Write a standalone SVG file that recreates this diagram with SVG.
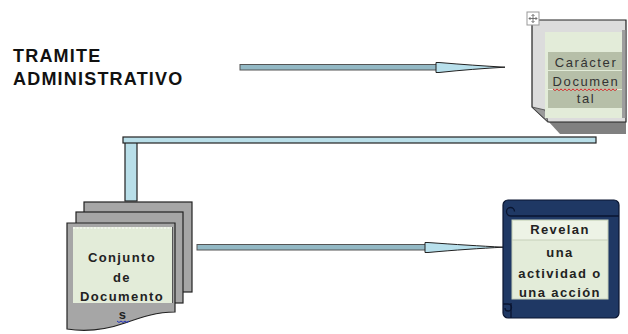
<svg xmlns="http://www.w3.org/2000/svg" width="628" height="334" viewBox="0 0 628 334">
<style>
.title{font-family:"Liberation Sans",Arial,sans-serif;font-weight:bold;font-size:18px;letter-spacing:1.2px;fill:#111}
.lab{font-family:"Liberation Sans",Arial,sans-serif;font-weight:bold;font-size:13px;letter-spacing:1.4px;fill:#222;text-anchor:middle}
.reg{font-family:"Liberation Sans",Arial,sans-serif;font-size:13px;letter-spacing:1.6px;fill:#333;text-anchor:middle}
.shaft{fill:#93b9c5;stroke:#555;stroke-width:1}
.head{fill:#b8e0ec;stroke:#222;stroke-width:1}
.bar{fill:#b9dfe9;stroke:#222;stroke-width:1.2}
.page{fill:#a6a6a6;stroke:#222;stroke-width:1.2}
.inner{fill:#e3ecd9}
.navy{fill:#1f3864;stroke:#0a1530;stroke-width:1.2}
.curl{fill:none;stroke:#0a1530;stroke-width:1.3}
.row{fill:#b6bfa8}
</style>
<rect width="628" height="334" fill="#ffffff"/>

<g id="title">
<text class="title" x="13" y="62">TRAMITE</text>
<text class="title" x="13" y="85">ADMINISTRATIVO</text>
</g>

<g id="connectors">
<rect class="shaft" x="240" y="64.5" width="198" height="5.5"/>
<path class="head" d="M436,62.5 L439,62.5 C462,64.5 484,66 505,67.2 C484,68.4 462,70 439,72.5 L436,72.5 Z"/>
<rect class="shaft" x="197" y="244.5" width="230" height="5.5"/>
<path class="head" d="M425,242.5 L428,242.5 C455,244.5 480,246 503,247.2 C480,248.4 455,250 428,252.5 L425,252.5 Z"/>
<rect class="bar" x="125" y="142" width="12" height="59"/>
<rect class="bar" x="123" y="137" width="473" height="6"/>
</g>

<g id="caracter-documental">
<path d="M548,121 H626 V134 H560 Z" fill="#808080"/>
<path d="M532,20 H626 V122 H548 L532,107 Z" fill="#dcdcdc" stroke="#222" stroke-width="1.2"/>
<path d="M532,107 L548,122 L545,110 Z" fill="#9a9a9a" stroke="#444" stroke-width="0.8"/>
<rect class="inner" x="545" y="32" width="78" height="86"/>
<rect x="622" y="30" width="3.5" height="88" fill="#9e9e9e"/>
<rect class="row" x="548" y="52" width="74" height="18"/>
<rect class="row" x="548" y="71" width="74" height="18"/>
<rect class="row" x="548" y="90" width="74" height="18"/>
<text class="reg" x="586" y="67">Carácter</text>
<text class="reg" x="586" y="86">Documen</text>
<path d="M553,89 l2,1.5 l2,-1.5 l2,1.5 l2,-1.5 l2,1.5 l2,-1.5 l2,1.5 l2,-1.5 l2,1.5 l2,-1.5 l2,1.5 l2,-1.5 l2,1.5 l2,-1.5 l2,1.5 l2,-1.5 l2,1.5 l2,-1.5 l2,1.5 l2,-1.5 l2,1.5 l2,-1.5 l2,1.5 l2,-1.5 l2,1.5 l2,-1.5 l2,1.5 l2,-1.5 l2,1.5 l2,-1.5 l2,1.5 l2,-1.5" fill="none" stroke="#d02020" stroke-width="1"/>
<text class="reg" x="586" y="103">tal</text>
<rect x="527" y="12" width="12" height="13" fill="#ffffff" stroke="#999" stroke-width="1"/>
<path d="M533,14.5 V22.5 M529,18.5 H537 M531.5,16 L533,14.5 L534.5,16 M531.5,21 L533,22.5 L534.5,21 M530.5,17 L529,18.5 L530.5,20 M535.5,17 L537,18.5 L535.5,20" fill="none" stroke="#666" stroke-width="0.9"/>
</g>

<g id="conjunto-documentos">
<rect class="page" x="84" y="202" width="108" height="90"/>
<rect class="page" x="76" y="212" width="107" height="91"/>
<path class="page" d="M67,223 H175 V312 C157,312 142,317 125,323 C105,330 86,332 67,329 Z"/>
<rect class="inner" x="73" y="227" width="99" height="76"/>
<line x1="73" y1="228" x2="172" y2="228" stroke="#ffffff" stroke-width="1" stroke-dasharray="2,1.5"/>
<line x1="172.5" y1="227" x2="172.5" y2="303" stroke="#555" stroke-width="1"/>
<text class="lab" x="122" y="262">Conjunto</text>
<text class="lab" x="122" y="282">de</text>
<text class="lab" x="122" y="301">Documento</text>
<text class="lab" x="123" y="319">s</text>
<path d="M117,321 l2,1.5 l2,-1.5 l2,1.5 l2,-1.5 l2,1.5 l2,-1.5" fill="none" stroke="#2030c0" stroke-width="1"/>
</g>

<g id="revelan">
<rect class="navy" x="503" y="200" width="116" height="118" rx="5"/>
<path class="curl" d="M619,216 H511 a4.5,4.5 0 0 1 -4.5,-4.5 a4,4 0 0 1 8,0"/>
<path class="curl" d="M503,304 H508 a3.5,3.5 0 0 1 0,7 a3,3 0 0 1 -3,-3"/>
<path class="curl" d="M511,303 V318"/>
<rect class="inner" x="512" y="220" width="96" height="79" stroke="#c6cfba" stroke-width="1"/>
<rect x="513" y="221" width="94" height="19" fill="#edf3e6"/>
<line x1="512" y1="240" x2="608" y2="240" stroke="#c6cfba" stroke-width="1"/>
<text class="lab" x="560" y="234">Revelan</text>
<text class="lab" x="560" y="257">una</text>
<text class="lab" x="560" y="278">actividad o</text>
<text class="lab" x="560" y="297">una acción</text>
</g>
</svg>
